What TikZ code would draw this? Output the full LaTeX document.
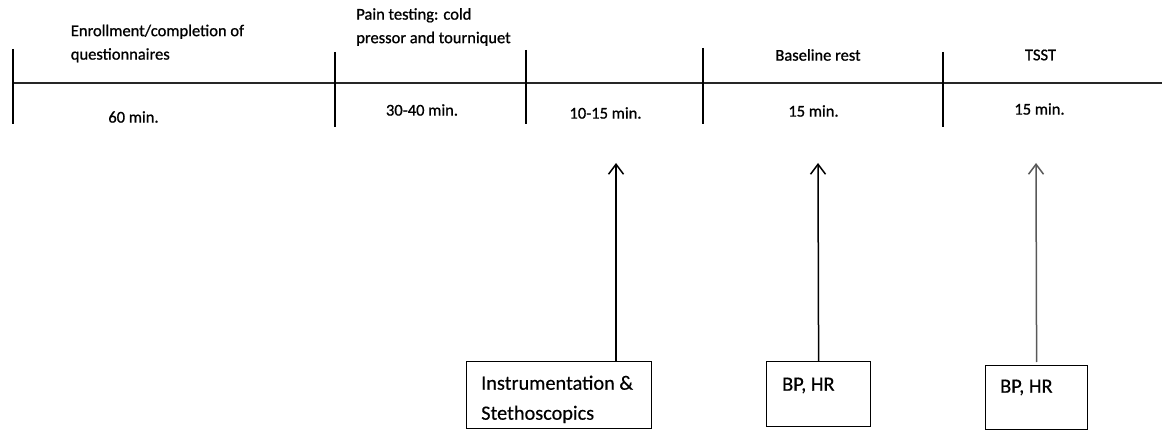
\documentclass[tikz,border=0pt]{standalone}
\usepackage{fontspec}
\setmainfont{Carlito}
\newfontfamily\phasefont[FakeBold=0.9]{Carlito}
\newfontfamily\boxfont[FakeBold=0.4]{Carlito}
\usetikzlibrary{arrows.meta,positioning}

\tikzset{
  phase/.style={inner sep=0pt, align=left, font=\phasefont\fontsize{16.5}{23.5}\selectfont},
  divider/.style={line width=1.3pt},
  evbox/.style={draw, line width=1.2pt, inner sep=0pt, anchor=north west},
  boxtext/.style={inner sep=0pt, anchor=north west, align=left, font=\boxfont\fontsize{20.3}{30}\selectfont},
  uparrow/.style={line width=1.5pt, -{Straight Barb[length=10pt,width=15pt]}},
}

\begin{document}
\begin{tikzpicture}[x=1pt, y=-1pt]
    \useasboundingbox (0,0) rectangle (1162,430);

    % timeline
    \coordinate (tl0) at (13,83);
    \coordinate (tl1) at (1162,83);
    \draw[line width=1.5pt, black!85] (tl0) -- (tl1);

    % dividers
    \draw[divider] (13,49) -- (13,124);
    \draw[divider] (335,52) -- (335,127);
    \draw[divider] (526,50) -- (526,124);
    \draw[divider] (703,48) -- (703,124);
    \draw[divider] (943,52) -- (943,127);

    % phases above the line
    \node[phase] (enroll) at (157.5,43.5) {Enrollment/completion of\\questionnaires};
    \node[phase] (pain) at (433.5,27) {Pain testing: cold\\pressor and tourniquet};
    \node[phase] (rest) at (818,55) {Baseline rest};
    \node[phase] (tsst) at (1040.5,55) {TSST};

    % durations below the line
    \node[phase] (dur1) at (133.5,117) {60 min.};
    \node[phase] (dur2) at (422,110) {30-40 min.};
    \node[phase] (dur3) at (605.5,113) {10-15 min.};
    \node[phase] (dur4) at (813.5,111) {15 min.};
    \node[phase] (dur5) at (1039.5,109) {15 min.};

    % measurement boxes
    \node[evbox, minimum width=185pt, minimum height=67pt] (instr) at (466,361) {};
    \node[boxtext] (instrtxt) at ([shift={(15,14.5)}]instr.north west) {Instrumentation \&\\Stethoscopics};
    \node[evbox, minimum width=104pt, minimum height=65pt] (bp1) at (766,361) {};
    \node[boxtext] (bp1txt) at ([shift={(16,16.5)}]bp1.north west) {BP, HR};
    \node[evbox, minimum width=102pt, minimum height=64pt] (bp2) at (985,365) {};
    \node[boxtext] (bp2txt) at ([shift={(15,14.5)}]bp2.north west) {BP, HR};

    % arrows up to the timeline
    \coordinate (tipA) at (616,163);
    \coordinate (tipB) at (818,163);
    \coordinate (tipC) at (1036,163);
    \draw[uparrow] (tipA |- instr.north) -- (tipA);
    \draw[uparrow] (bp1.north) -- (tipB);
    \draw[uparrow, black!65] ([yshift=3pt]bp2.north) -- (tipC);
\end{tikzpicture}
\end{document}
